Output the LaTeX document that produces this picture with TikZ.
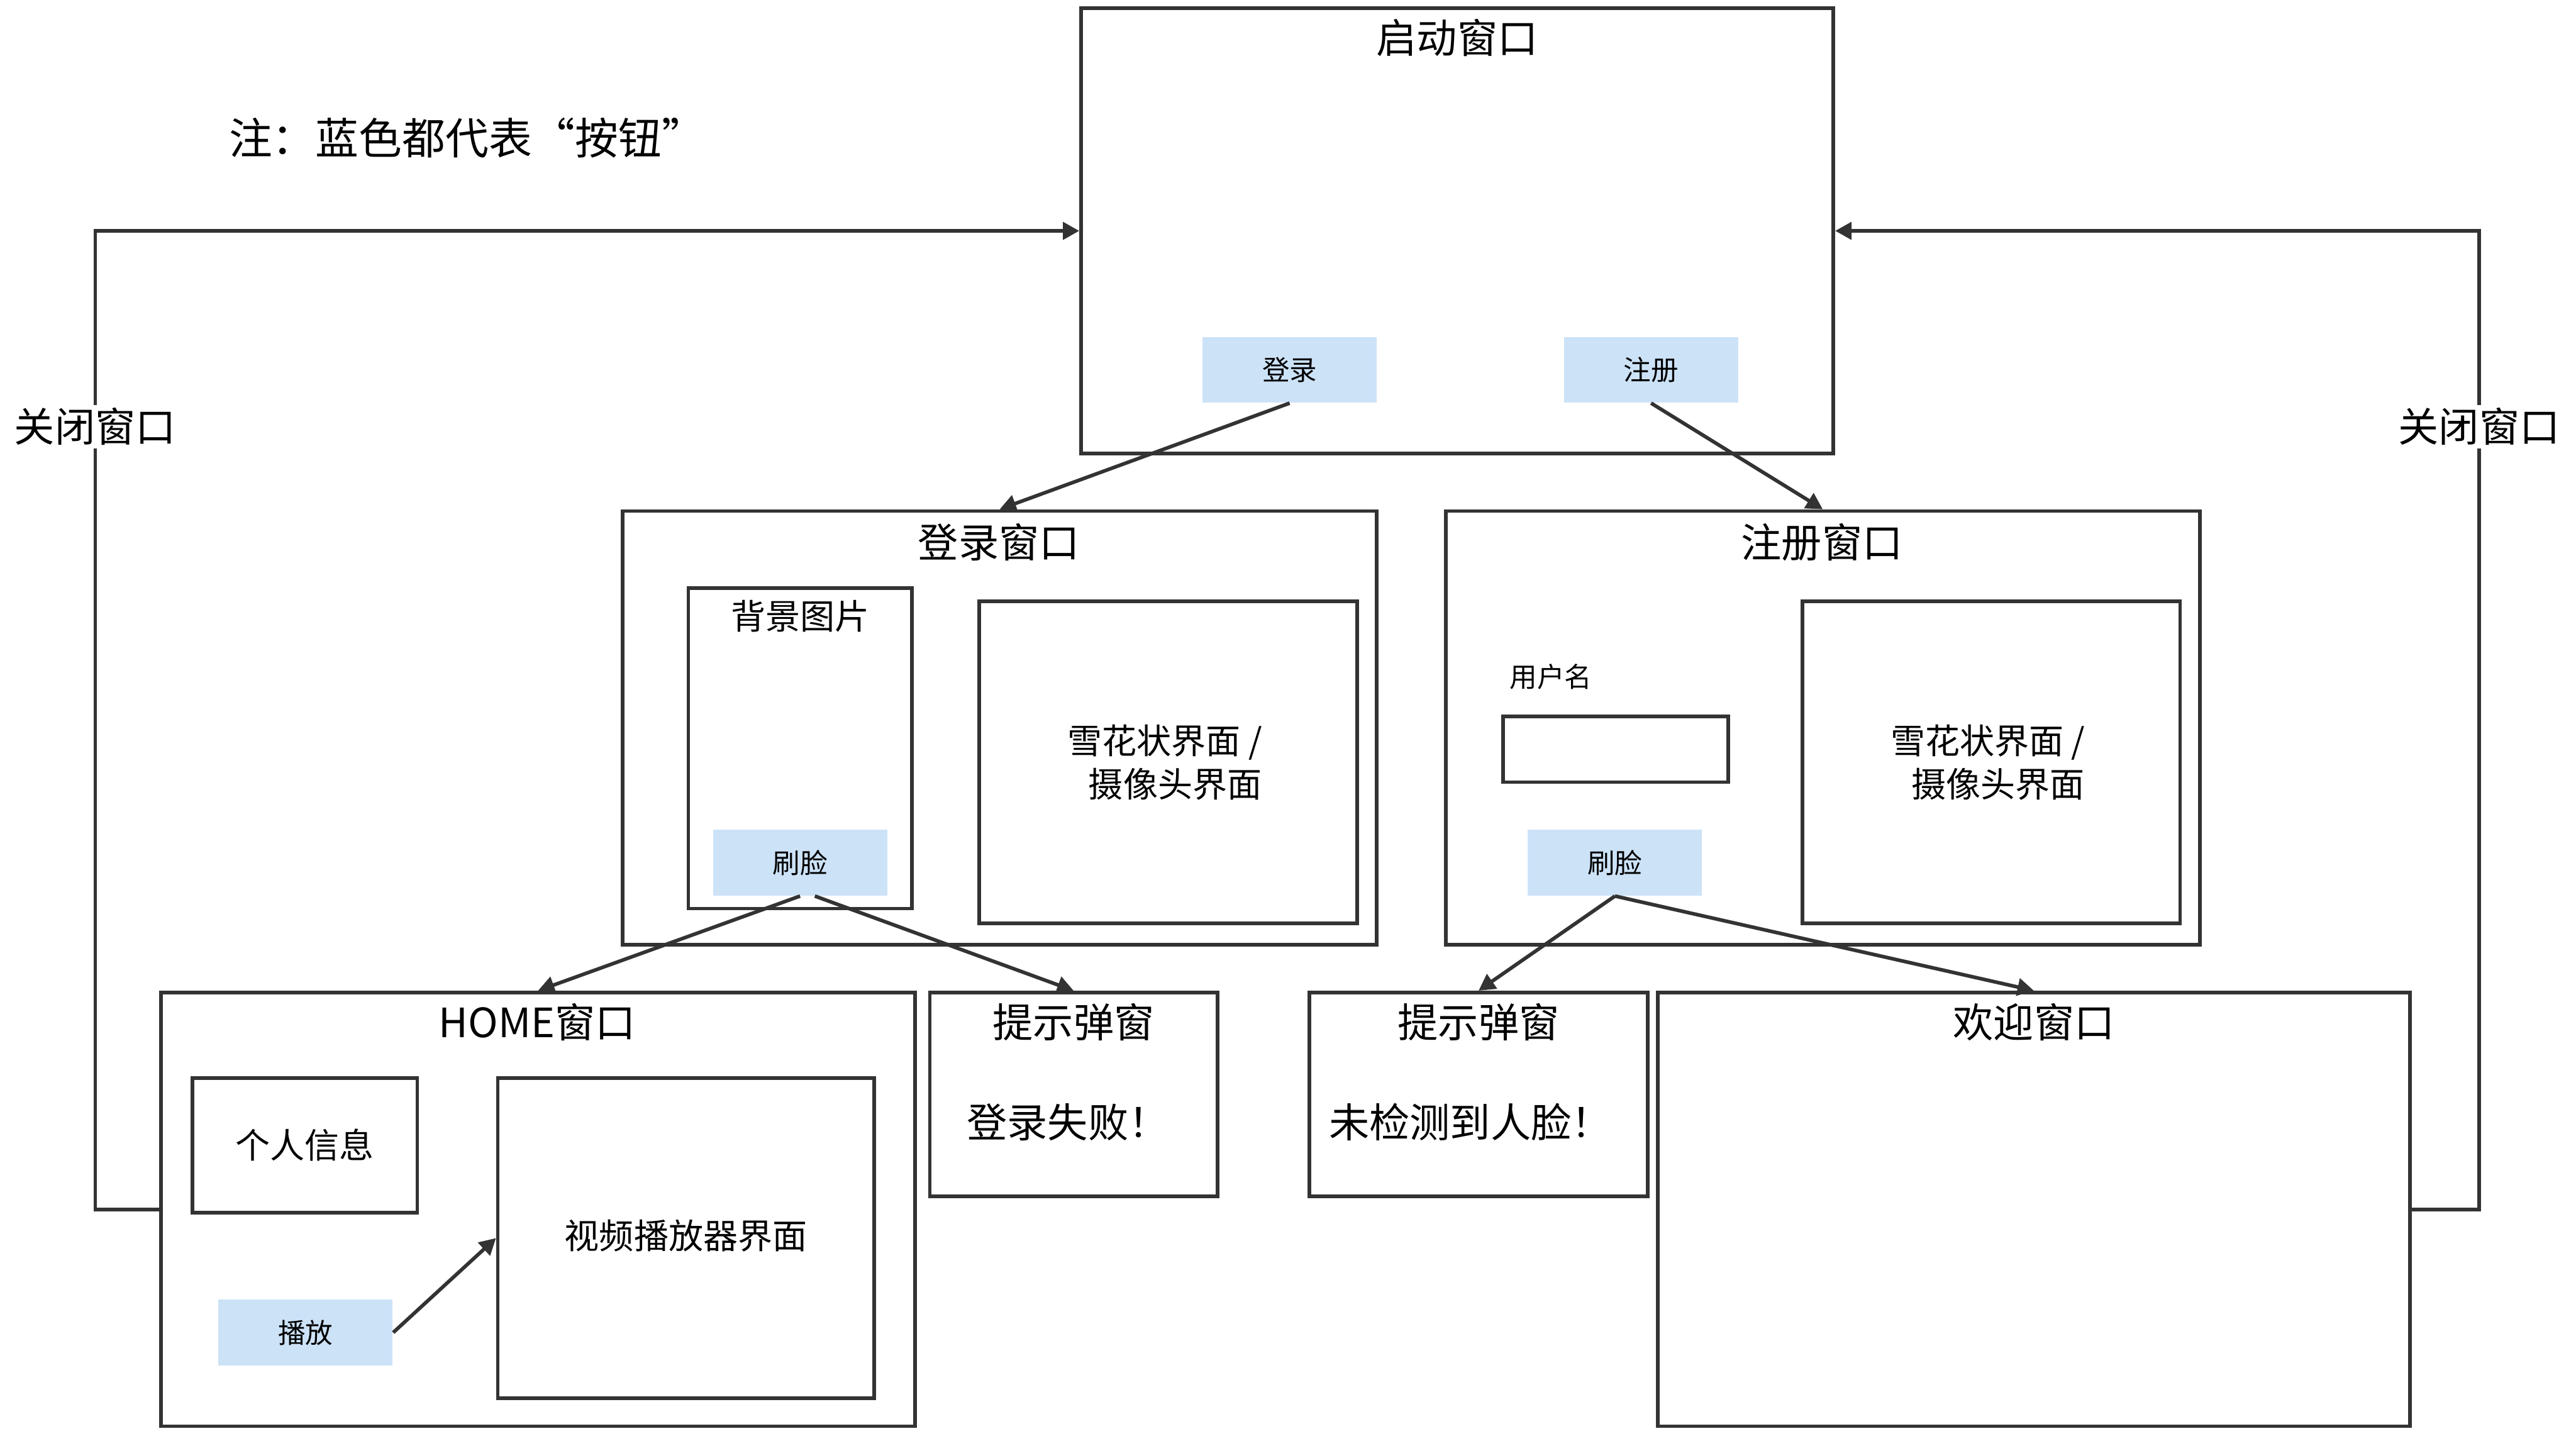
\documentclass[tikz,border=0pt]{standalone}
\usepackage{fontspec}
\setmainfont{Noto Sans CJK SC}
\usetikzlibrary{arrows.meta}
\definecolor{linegray}{HTML}{333333}
\definecolor{btnblue}{HTML}{CCE2F7}

\begin{document}
\begin{tikzpicture}[
  x=0.02cm, y=-0.02cm,
  win/.style={draw=linegray, line width=1.25pt, inner sep=0pt},
  btn/.style={fill=btnblue, minimum width=2.12cm, minimum height=0.8cm, inner sep=0pt,
    font=\fontsize{9.5}{11}\selectfont},
  wtitle/.style={inner sep=1pt, font=\fontsize{14}{17}\selectfont},
  sublabel/.style={inner sep=1pt, align=center, font=\fontsize{12}{15}\selectfont},
  arr/.style={->, draw=linegray, line width=1.25pt},
  >={Triangle[length=2mm,width=2.1mm]}
]
  \useasboundingbox (0,0) rectangle (1568,877);

  % 注释
  \node[inner sep=0pt, anchor=west, font=\fontsize{15}{18}\selectfont] (note) at (139,84) {注：蓝色都代表“按钮”};

  % 启动窗口
  \node[win, minimum width=9.16cm, minimum height=5.42cm] (start) at (887,140.5) {};
  \node[wtitle] (starttitle) at (887,23) {启动窗口};
  \node[btn] (btnlogin) at (785,225) {登录};
  \node[btn] (btnreg) at (1005,225) {注册};

  % 登录窗口
  \node[win, minimum width=9.18cm, minimum height=5.28cm] (login) at (608.5,443) {};
  \node[wtitle] (logintitle) at (608,330) {登录窗口};
  \node[win, minimum width=2.72cm, minimum height=3.9cm] (bgpic) at (487,455.5) {};
  \node[sublabel] (bgpictitle) at (487,375) {背景图片};
  \node[btn] (face1) at (487,525) {刷脸};
  \node[win, minimum width=4.6cm, minimum height=3.92cm] (cam1) at (711,464) {};
  \node[sublabel] (cam1text) at (709,464) {雪花状界面\ /\\\hspace*{0.6em}摄像头界面};

  % 注册窗口
  \node[win, minimum width=9.18cm, minimum height=5.28cm] (reg) at (1109.5,443) {};
  \node[wtitle] (regtitle) at (1109,330) {注册窗口};
  \node[inner sep=0pt, font=\fontsize{9.5}{11}\selectfont] (username) at (944,412) {用户名};
  \node[win, minimum width=2.74cm, minimum height=0.8cm] (userbox) at (983.5,456) {};
  \node[btn] (face2) at (983,525) {刷脸};
  \node[win, minimum width=4.6cm, minimum height=3.92cm] (cam2) at (1212,464) {};
  \node[sublabel] (cam2text) at (1210,464) {雪花状界面\ /\\\hspace*{0.6em}摄像头界面};

  % HOME窗口
  \node[win, minimum width=9.18cm, minimum height=5.28cm] (home) at (327.5,736) {};
  \node[wtitle] (hometitle) at (327,622) {HOME窗口};
  \node[win, minimum width=2.74cm, minimum height=1.64cm] (info) at (185.5,697) {};
  \node[sublabel] (infotext) at (185.5,697) {个人信息};
  \node[win, minimum width=4.58cm, minimum height=3.9cm] (video) at (417.5,753.5) {};
  \node[sublabel] (videotext) at (417.5,752) {视频播放器界面};
  \node[btn] (play) at (186,811) {播放};

  % 提示弹窗
  \node[win, minimum width=3.5cm, minimum height=2.48cm] (tip1) at (653.5,666) {};
  \node[wtitle] (tip1title) at (653.5,622) {提示弹窗};
  \node[wtitle] (tip1text) at (650,683) {登录失败！};
  \node[win, minimum width=4.12cm, minimum height=2.48cm] (tip2) at (900,666) {};
  \node[wtitle] (tip2title) at (900,622) {提示弹窗};
  \node[wtitle] (tip2text) at (895,683) {未检测到人脸！};

  % 欢迎窗口
  \node[win, minimum width=9.16cm, minimum height=5.28cm] (welcome) at (1238,736) {};
  \node[wtitle] (welcometitle) at (1238,622) {欢迎窗口};

  % 连线
  \draw[arr] (btnlogin.south) -- (login.north);
  \draw[arr] (btnreg.south) -- (reg.north);
  \draw[arr] (face1.south) -- (home.north);
  \draw[arr] ([xshift=0.18cm]face1.south) -- (tip1.north);
  \draw[arr] (face2.south) -- (tip2.north);
  \draw[arr] (face2.south) -- (welcome.north);
  \draw[arr] (play.east) -- (video.west);
  \draw[arr] (home.west) -- ++(-39,0) |- node[pos=0.4, fill=white, inner sep=1pt, font=\fontsize{14}{17}\selectfont] (closeL) {关闭窗口} (start.west);
  \draw[arr] (welcome.east) -- ++(41,0) |- node[pos=0.4, fill=white, inner sep=1pt, font=\fontsize{14}{17}\selectfont] (closeR) {关闭窗口} (start.east);
\end{tikzpicture}
\end{document}
